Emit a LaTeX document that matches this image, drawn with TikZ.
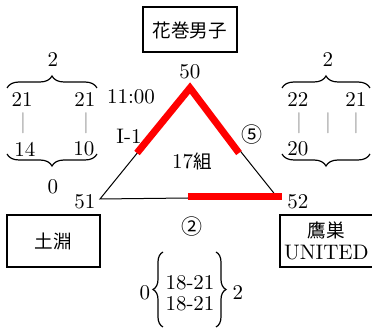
\documentclass[tikz,border=0pt]{standalone}
\usepackage{fontspec}
\newfontfamily\jfont{Noto Sans CJK JP}
\newcommand{\jp}[1]{{\jfont\fontsize{9.3}{11}\selectfont #1}}
\usetikzlibrary{decorations.pathreplacing}

\begin{document}
\begin{tikzpicture}[x=0.5pt,y=-0.5pt,font=\fontsize{10.5}{12}\selectfont,
 team/.style={draw,line width=1pt,minimum height=26pt,align=center,inner sep=2pt},
 won/.style={red,line width=3.5pt},
 lost/.style={line width=0.5pt},
 bar/.style={text=gray},
 brc/.style={decorate,decoration={brace,amplitude=6pt},line width=0.6pt}]
\useasboundingbox (0,0) rectangle (372,331);
% teams
\node[team,minimum width=47pt,minimum height=22.5pt] (t50) at (190,30) {\jp{花巻男子}};
\node[team,minimum width=46.5pt] (t51) at (53.5,241) {\jp{土淵}};
\node[team,minimum width=44.5pt] (t52) at (326.5,241) {\jp{鷹巣}\\[-1pt]UNITED};
% block
\coordinate (top) at (190,88);
\coordinate (bl) at (100,199);
\coordinate (br) at (277,197);
\coordinate (lm) at (137,153);
\coordinate (rm) at (239,153);
\coordinate (b1) at (188,197);
\coordinate (b2) at (282,197);
\draw[lost] (bl) -- (top) -- (br) -- cycle;
\draw[won] (lm) -- (top) -- (rm);
\draw[won] (b1) -- (b2);
\node (n50) at (190,72) {50};
\node (n51) at (85,202) {51};
\node (n52) at (298,202) {52};
\node (time) at (131,97) {11:00};
\node (court) at (129,136) {I-1};
\node (g17) at (192,161) {17\jp{組}};
\node (m5) at (252,135) {\jfont ⑤};
\node (m2) at (192,227) {\jfont ②};
% left score
\draw[brc] (7,88) -- (97,88);
\node (l2) at (53,60) {2};
\node (la1) at (22,100) {21};
\node (la2) at (85,100) {21};
\node[bar] (lb1) at (23,123) {|};
\node[bar] (lb2) at (86,123) {|};
\node (lc1) at (25,149) {14};
\node (lc2) at (84,149) {10};
\draw[brc] (97,154) -- (7,154);
\node (l0) at (53,187) {0};
% right score
\draw[brc] (282,88) -- (370,88);
\node (r2) at (328,60) {2};
\node (ra1) at (298,100) {22};
\node (ra2) at (356,100) {21};
\node[bar] (rb1) at (299,123) {|};
\node[bar] (rb2) at (328,123) {|};
\node[bar] (rb3) at (356,123) {|};
\node (rc1) at (298,149) {20};
\draw[brc] (370,154) -- (282,154);
% bottom score
\node (s1) at (190,283) {18-21};
\node (s2) at (190,304) {18-21};
\draw[brc,decoration={amplitude=5pt}] (163,327) -- (163,252);
\draw[brc,decoration={amplitude=5pt}] (216,252) -- (216,327);
\node (s0) at (145,293) {0};
\node (sw) at (238,293) {2};
\end{tikzpicture}
\end{document}
